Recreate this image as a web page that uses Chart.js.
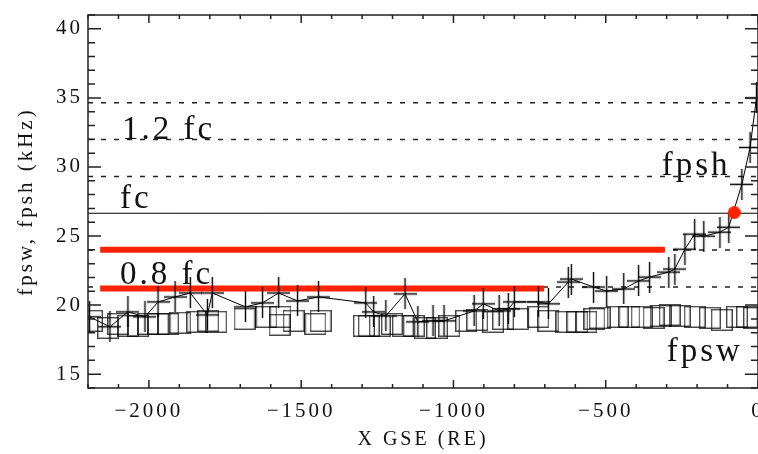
<!DOCTYPE html>
<html>
<head>
<meta charset="utf-8">
<script src="https://cdn.jsdelivr.net/npm/chart.js@4.4.0/dist/chart.umd.min.js"></script>
<style>
  html, body { margin: 0; padding: 0; background: #fff; overflow: hidden; }
  #wrap { width: 758px; height: 454px; position: relative; }
  canvas { display: block; }
</style>
</head>
<body>
<div id="wrap"><canvas id="fpChart"></canvas></div>
<script>
// fpsh (crosses joined by a line), X GSE in RE, frequency in kHz
const fpshX = [-2195, -2128, -2069, -2013, -1970, -1914, -1864, -1808, -1792, -1683, -1627, -1574, -1512, -1443,
  -1288, -1262, -1222, -1159, -1117, -1067, -1031, -932, -902, -850, -820, -800, -721, -688, -623, -613,
  -540, -497, -441, -392, -356, -293, -273, -240, -208, -178, -125, -96, -53, -26, -5];
const fpshY = [19.15, 18.43, 19.51, 19.15, 20.23, 20.59, 20.88, 19.29, 20.88, 19.87, 20.16, 20.88, 20.30, 20.59,
  20.16, 19.51, 19.22, 20.81, 18.79, 18.86, 18.86, 19.58, 20.09, 19.58, 19.73, 20.23, 20.23, 20.09, 21.67, 21.89,
  21.31, 21.02, 21.17, 21.75, 22.03, 22.39, 22.61, 24.05, 25.14, 24.99, 25.28, 25.64, 28.74, 31.41, 35.0];

// fpsw (open squares)
const fpswX = [-2187, -2134, -2101, -2069, -2036, -2003, -1970, -1937, -1897, -1841, -1805, -1779, -1686, -1614,
  -1571, -1568, -1525, -1453, -1436, -1294, -1278, -1242, -1202, -1166, -1130, -1094, -1054, -1014, -958, -922,
  -870, -837, -787, -721, -688, -629, -593, -564, -537, -520, -461, -422, -382, -343, -320, -290, -257, -208,
  -158, -119, -69, -36, -13];
const fpswY = [18.86, 18.35, 18.64, 18.50, 18.50, 18.64, 18.64, 18.64, 18.72, 18.79, 18.86, 18.79, 19.00, 19.15,
  18.57, 19.15, 18.86, 18.64, 18.86, 18.50, 18.50, 18.50, 18.64, 18.50, 18.50, 18.35, 18.35, 18.50, 18.86, 18.93,
  18.79, 19.00, 19.00, 19.15, 18.86, 18.79, 18.79, 18.79, 19.00, 19.08, 19.15, 19.15, 19.15, 19.08, 19.22, 19.29,
  19.22, 19.15, 19.08, 18.93, 19.15, 19.15, 19.08];

// reference levels
const fc = 26.65;
const dottedFactors = [0.8, 0.9, 1.1, 1.2, 1.3];
const redLevels = [24.0, 21.2];
const redStart = [-2160, -2160];
const redEnd = [-306, -702];
const dotX = [-78];
const dotY = [26.7];

const xTicks = [-2000, -1500, -1000, -500, 0];
const yTicks = [15, 20, 25, 30, 35, 40];

// text written inside the plot
const noteText = ["1.2 fc", "fc", "0.8 fc", "fpsh", "fpsw"];
const noteX = [-2088, -2095, -2095, -316, -300];
const noteY = [32.05, 27.0, 21.5, 29.45, 15.94];

const serif = "'Liberation Serif', 'Times New Roman', serif";

// markers are drawn once on small canvases
function marker(w, h, paint) {
  const c = document.createElement("canvas");
  c.width = w;
  c.height = h;
  paint(c.getContext("2d"), w, h);
  return c;
}

const plusImg = marker(23, 31, (g, w, h) => {
  g.strokeStyle = "#000";
  g.lineWidth = 1.4;
  g.beginPath();
  g.moveTo(0, h / 2);
  g.lineTo(w, h / 2);
  g.moveTo(w / 2, 0);
  g.lineTo(w / 2, h);
  g.stroke();
});

const squareImg = marker(22, 22, (g, w, h) => {
  g.strokeStyle = "rgba(0,0,0,0.72)";
  g.lineWidth = 1.4;
  g.strokeRect(0.7, 0.7, w - 1.4, h - 1.4);
});

const dotImg = marker(13, 13, (g, w, h) => {
  g.fillStyle = "#ff2200";
  g.beginPath();
  g.arc(w / 2, h / 2, 6.5, 0, Math.PI * 2);
  g.fill();
});

function flatLine(y, x0, x1) {
  return [{ x: x0, y: y }, { x: x1, y: y }];
}

const imgPoint = { pointRadius: 1, pointHoverRadius: 1, pointBorderWidth: 0, pointHitRadius: 0 };

let datasets = [];

datasets.push(Object.assign({
  data: dotX.map((x, i) => ({ x: x, y: dotY[i] })),
  pointStyle: dotImg,
  showLine: false,
  borderWidth: 0
}, imgPoint));

datasets.push(Object.assign({
  data: fpshX.map((x, i) => ({ x: x, y: fpshY[i] })),
  showLine: true,
  borderColor: "#000",
  borderWidth: 1,
  pointStyle: plusImg
}, imgPoint));

redLevels.forEach((lvl, i) => {
  datasets.push({
    data: flatLine(lvl, redStart[i], redEnd[i]),
    showLine: true,
    borderColor: "#ff2200",
    borderWidth: 6,
    borderCapStyle: "butt",
    pointRadius: 0,
    pointHoverRadius: 0
  });
});

datasets.push(Object.assign({
  data: fpswX.map((x, i) => ({ x: x, y: fpswY[i] })),
  showLine: false,
  borderWidth: 0,
  pointStyle: squareImg
}, imgPoint));

datasets.push({
  data: flatLine(fc, -2200, 0),
  showLine: true,
  borderColor: "#000",
  borderWidth: 1,
  pointRadius: 0,
  pointHoverRadius: 0
});

dottedFactors.forEach((f) => {
  datasets.push({
    data: flatLine(f * fc, -2200, 0),
    showLine: true,
    borderColor: "#222",
    borderWidth: 1.5,
    borderDash: [5, 8],
    pointRadius: 0,
    pointHoverRadius: 0
  });
});

// frame with inward ticks on all four sides, like the original plot
const frameTicks = {
  id: "frameTicks",
  beforeDraw(chart) {
    chart.ctx.letterSpacing = "3px";
  },
  afterDraw(chart) {
    const ctx = chart.ctx;
    const a = chart.chartArea;
    const x = chart.scales.x;
    const y = chart.scales.y;
    ctx.save();
    ctx.strokeStyle = "#222";
    ctx.lineWidth = 1.5;
    ctx.strokeRect(a.left, a.top, a.right - a.left, a.bottom - a.top);
    ctx.beginPath();
    for (let v = x.min; v <= x.max; v += 100) {
      const px = x.getPixelForValue(v);
      const len = v % 500 === 0 ? 8 : 4;
      ctx.moveTo(px, a.bottom);
      ctx.lineTo(px, a.bottom - len);
      ctx.moveTo(px, a.top);
      ctx.lineTo(px, a.top + len);
    }
    for (let v = y.min; v <= y.max; v += 1) {
      const py = y.getPixelForValue(v);
      const len = v % 5 === 0 ? 13 : 7;
      ctx.moveTo(a.left, py);
      ctx.lineTo(a.left + len, py);
      ctx.moveTo(a.right, py);
      ctx.lineTo(a.right - len, py);
    }
    ctx.stroke();
    ctx.restore();
  }
};

const notes = {
  id: "notes",
  afterDatasetsDraw(chart) {
    const ctx = chart.ctx;
    ctx.save();
    ctx.font = "33px " + serif;
    ctx.fillStyle = "#111";
    ctx.textAlign = "left";
    ctx.textBaseline = "alphabetic";
    noteText.forEach((t, i) => {
      ctx.fillText(t, chart.scales.x.getPixelForValue(noteX[i]), chart.scales.y.getPixelForValue(noteY[i]));
    });
    ctx.restore();
  }
};

function minusLabel(v) {
  return v < 0 ? "\u2212" + Math.abs(v) : String(v);
}

// the plot frame runs right to the window edge, so drop the label padding
function noEdgePadding(s) {
  s.paddingLeft = 0;
  s.paddingRight = 0;
  s.paddingTop = 0;
  s.paddingBottom = 0;
}

const ctx = document.getElementById("fpChart").getContext("2d");
const fpChart = new Chart(ctx, {
  type: "scatter",
  data: { datasets: datasets },
  options: {
    animation: false,
    responsive: true,
    maintainAspectRatio: false,
    devicePixelRatio: 1,
    layout: { autoPadding: false, padding: { top: 15, right: 0, left: 0, bottom: 0 } },
    plugins: {
      legend: { display: false },
      tooltip: { enabled: false }
    },
    scales: {
      x: {
        type: "linear",
        min: -2200,
        max: 0,
        grid: { display: false, drawTicks: false },
        border: { display: false },
        afterBuildTicks: (s) => { s.ticks = xTicks.map((v) => ({ value: v })); },
        afterFit: (s) => { s.height = 66; noEdgePadding(s); },
        ticks: {
          color: "#111",
          padding: 11,
          maxRotation: 0,
          autoSkip: false,
          font: { family: serif, size: 21 },
          callback: minusLabel
        },
        title: {
          display: true,
          text: "X GSE (RE)",
          color: "#111",
          font: { family: serif, size: 20 },
          padding: { top: 0, bottom: 2 }
        }
      },
      y: {
        type: "linear",
        min: 14,
        max: 41,
        grid: { display: false, drawTicks: false },
        border: { display: false },
        afterBuildTicks: (s) => { s.ticks = yTicks.map((v) => ({ value: v })); },
        afterFit: (s) => { s.width = 88; noEdgePadding(s); },
        ticks: {
          color: "#111",
          padding: 5,
          autoSkip: false,
          font: { family: serif, size: 21 }
        },
        title: {
          display: true,
          text: "fpsw, fpsh (kHz)",
          color: "#111",
          font: { family: serif, size: 21 },
          padding: { top: 14, bottom: 0 }
        }
      }
    }
  },
  plugins: [frameTicks, notes]
});
</script>
</body>
</html>
